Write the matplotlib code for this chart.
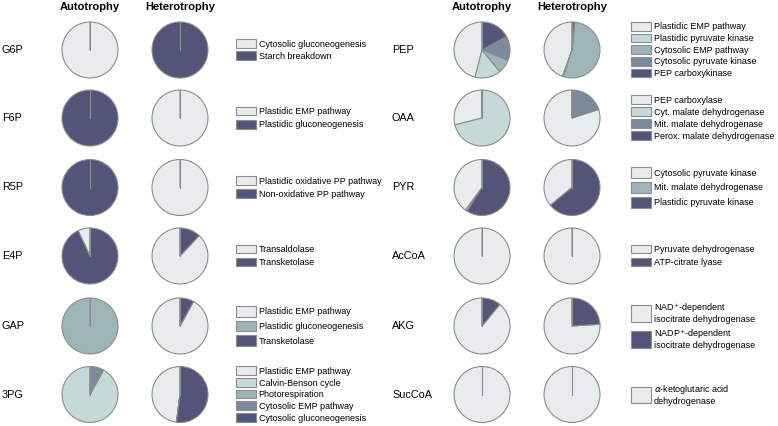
import matplotlib
matplotlib.use("Agg")
import matplotlib.pyplot as plt

plt.rcParams['font.family'] = ['Liberation Sans', 'DejaVu Sans']

# colours used in the figure
LIGHT = '#e8eced'
LTEAL = '#c6d9d9'
TEAL = '#9db5b9'
SLATE = '#7c8a9c'
DARK = '#545478'
EDGE = '#8c8c8c'

# ---- left panel ----
left_rows = ['G6P', 'F6P', 'R5P', 'E4P', 'GAP', '3PG']
left_labels = [
    ['Cytosolic gluconeogenesis', 'Starch breakdown'],
    ['Plastidic EMP pathway', 'Plastidic gluconeogenesis'],
    ['Plastidic oxidative PP pathway', 'Non-oxidative PP pathway'],
    ['Transaldolase', 'Transketolase'],
    ['Plastidic EMP pathway', 'Plastidic gluconeogenesis', 'Transketolase'],
    ['Plastidic EMP pathway', 'Calvin-Benson cycle', 'Photorespiration',
     'Cytosolic EMP pathway', 'Cytosolic gluconeogenesis'],
]
left_colors = [
    [LIGHT, DARK],
    [LIGHT, DARK],
    [LIGHT, DARK],
    [LIGHT, DARK],
    [LIGHT, TEAL, DARK],
    [LIGHT, LTEAL, TEAL, SLATE, DARK],
]
left_auto = [
    [100, 0],
    [0, 100],
    [0, 100],
    [7, 93],
    [0, 100, 0],
    [0, 92, 0, 8, 0],
]
left_het = [
    [0, 100],
    [100, 0],
    [100, 0],
    [88, 12],
    [92, 0, 8],
    [48, 0, 0, 0, 52],
]

# ---- right panel ----
right_rows = ['PEP', 'OAA', 'PYR', 'AcCoA', 'AKG', 'SucCoA']
right_labels = [
    ['Plastidic EMP pathway', 'Plastidic pyruvate kinase', 'Cytosolic EMP pathway',
     'Cytosolic pyruvate kinase', 'PEP carboxykinase'],
    ['PEP carboxylase', 'Cyt. malate dehydrogenase', 'Mit. malate dehydrogenase',
     'Perox. malate dehydrogenase'],
    ['Cytosolic pyruvate kinase', 'Mit. malate dehydrogenase', 'Plastidic pyruvate kinase'],
    ['Pyruvate dehydrogenase', 'ATP-citrate lyase'],
    ['NAD$^{+}$-dependent\nisocitrate dehydrogenase',
     'NADP$^{+}$-dependent\nisocitrate dehydrogenase'],
    ['$\\alpha$-ketoglutaric acid\ndehydrogenase'],
]
right_colors = [
    [LIGHT, LTEAL, TEAL, SLATE, DARK],
    [LIGHT, LTEAL, SLATE, DARK],
    [LIGHT, TEAL, DARK],
    [LIGHT, DARK],
    [LIGHT, DARK],
    [LIGHT],
]
right_auto = [
    [46, 15, 8, 14, 17],
    [29, 71, 0, 0],
    [40, 1, 59],
    [100, 0],
    [89, 11],
    [100],
]
right_het = [
    [44.5, 0.5, 53.5, 0, 1.5],
    [80, 0, 20, 0],
    [36, 0, 64],
    [100, 0],
    [76, 24],
    [100],
]

W, H = 778, 426
fig = plt.figure(figsize=(W / 100, H / 100), dpi=100)

row_y = [50, 118, 187.5, 256, 326, 394.5]
R = 28
PAD = 1.04

# legend box geometry per row (handleheight, labelspacing)
left_leg = [(1.1, 0.3), (1.1, 0.45), (1.1, 0.4), (1.1, 0.4), (1.45, 0.45), (1.1, 0.25)]
right_leg = [(1.1, 0.25), (1.1, 0.3), (1.45, 0.45), (1.1, 0.4), (2.5, 0.35), (2.4, 0.3)]


def pie_at(cx, cy, vals, cols):
    s = R * PAD
    ax = fig.add_axes([(cx - s) / W, 1 - (cy + s) / H, 2 * s / W, 2 * s / H])
    wedges, _ = ax.pie(vals, colors=cols, startangle=90, counterclock=True,
                       wedgeprops=dict(edgecolor=EDGE, linewidth=0.8))
    ax.plot([0, 0], [0, 1], color=EDGE, lw=0.8)
    ax.set_xlim(-PAD, PAD)
    ax.set_ylim(-PAD, PAD)
    ax.axis('off')
    return wedges


def panel(x0, x_auto, x_het, x_leg, rows, labels, colors, auto, het, leg):
    fig.text(x_auto / W, 1 - 7 / H, 'Autotrophy', ha='center', va='center',
             fontsize=8, fontweight='bold')
    fig.text(x_het / W, 1 - 7 / H, 'Heterotrophy', ha='center', va='center',
             fontsize=8, fontweight='bold')
    for i, name in enumerate(rows):
        y = row_y[i]
        fig.text(x0 / W, 1 - y / H, name, ha='left', va='center', fontsize=7.8)
        wedges = pie_at(x_auto, y, auto[i], colors[i])
        pie_at(x_het, y, het[i], colors[i])
        hh, ls = leg[i]
        lg = fig.legend(wedges, labels[i], loc='center left',
                        bbox_to_anchor=(x_leg / W, 1 - y / H), bbox_transform=fig.transFigure,
                        frameon=False, fontsize=6.5, handlelength=2.2, handleheight=hh,
                        handletextpad=0.3, labelspacing=ls, borderpad=0, borderaxespad=0)
        for t in lg.get_texts():
            t.set_linespacing(1.0)


panel(2, 90, 180, 236, left_rows, left_labels, left_colors, left_auto, left_het, left_leg)
panel(392, 482, 572, 631, right_rows, right_labels, right_colors, right_auto, right_het, right_leg)

fig.savefig('out.png', dpi=100)
